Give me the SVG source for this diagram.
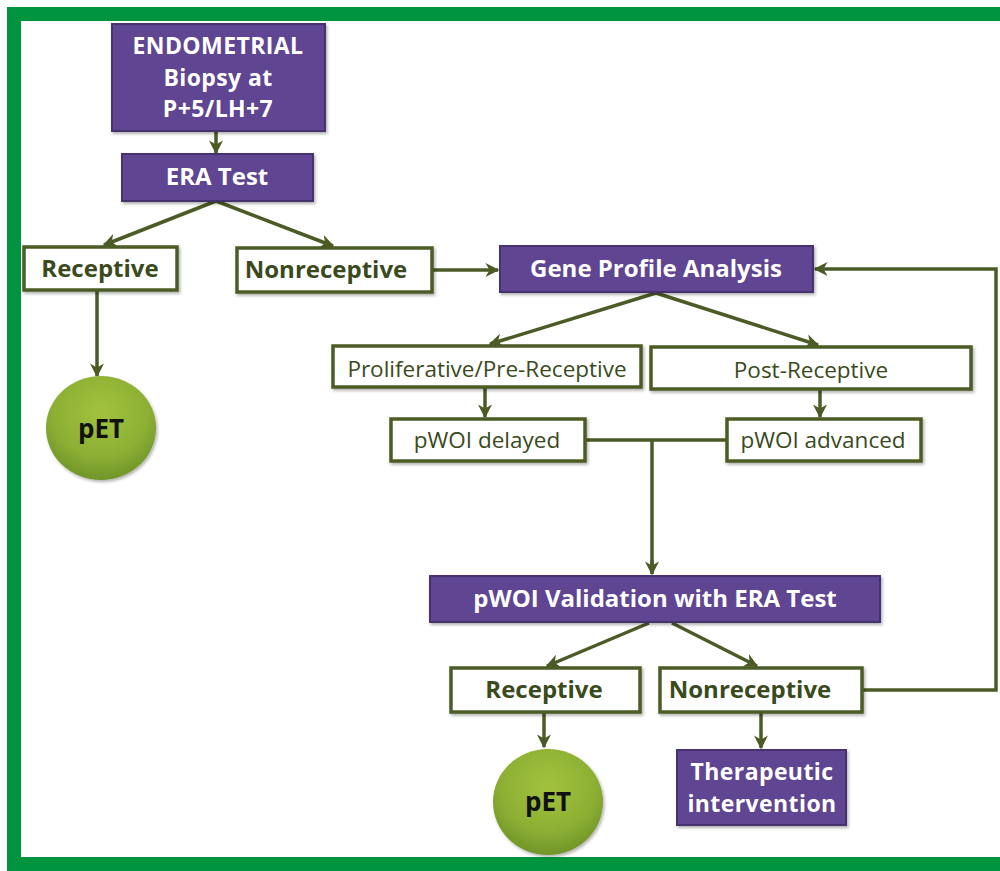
<svg xmlns="http://www.w3.org/2000/svg" width="1000" height="871" viewBox="0 0 1000 871">
<style>
.frame{fill:none;stroke:#00943F;stroke-width:14}
.pbox{fill:#5F4592;stroke:#45306E;stroke-width:2}
.wbox{fill:#FFFFFF;stroke:#4B5B25;stroke-width:3.5}
.wt{font-family:"Open Sans","DejaVu Sans",sans-serif;font-size:24px;font-weight:700;fill:#3A4A1C;text-anchor:middle}
.rt{font-family:"Open Sans","DejaVu Sans",sans-serif;font-size:22.5px;font-weight:400;fill:#3A4A1C;text-anchor:middle}
.pt{font-family:"Open Sans","DejaVu Sans",sans-serif;font-size:24px;font-weight:700;fill:#FFFFFF;text-anchor:middle}
.pm{font-family:"Open Sans","DejaVu Sans",sans-serif;font-size:23px;font-weight:700;fill:#FFFFFF;text-anchor:middle;letter-spacing:0.4px}
.ct{font-family:"Open Sans","DejaVu Sans",sans-serif;font-size:26px;font-weight:700;fill:#111111;text-anchor:middle}
.conn{fill:none;stroke:#4B5B25;stroke-width:3.5}
</style>
<defs>
<marker id="arr" viewBox="0 0 10 10" refX="9" refY="5" markerWidth="4" markerHeight="4" orient="auto" markerUnits="strokeWidth">
<path d="M0,0 L10,5 L0,10 L3,5 z" fill="#4B5B25"/>
</marker>
<radialGradient id="ball" cx="50%" cy="35%" r="70%">
<stop offset="0" stop-color="#A2C23E"/>
<stop offset="0.6" stop-color="#8DB034"/>
<stop offset="1" stop-color="#6A8F26"/>
</radialGradient>
<filter id="sh" x="-20%" y="-20%" width="150%" height="150%">
<feDropShadow dx="1.5" dy="2" stdDeviation="1.5" flood-color="#000" flood-opacity="0.3"/>
</filter>
</defs>
<rect x="0" y="0" width="1000" height="871" fill="#FFFFFF"/>
<path d="M1007,14 L14,14 L14,864 L1007,864" class="frame"/>

<g id="connectors">
<line x1="216" y1="131" x2="216" y2="153" class="conn" marker-end="url(#arr)"/>
<line x1="216" y1="201" x2="104" y2="245" class="conn" marker-end="url(#arr)"/>
<line x1="216" y1="201" x2="333" y2="246" class="conn" marker-end="url(#arr)"/>
<line x1="97" y1="291" x2="97" y2="376" class="conn" marker-end="url(#arr)"/>
<line x1="433" y1="270" x2="498" y2="270" class="conn" marker-end="url(#arr)"/>
<line x1="656" y1="293" x2="490" y2="344" class="conn" marker-end="url(#arr)"/>
<line x1="656" y1="293" x2="818" y2="345" class="conn" marker-end="url(#arr)"/>
<line x1="485" y1="387" x2="485" y2="417" class="conn" marker-end="url(#arr)"/>
<line x1="820" y1="389" x2="820" y2="417" class="conn" marker-end="url(#arr)"/>
<path d="M586,440 L726,440 M652,440 L652,574" class="conn"/>
<line x1="652" y1="560" x2="652" y2="574" class="conn" marker-end="url(#arr)"/>
<line x1="649" y1="623" x2="547" y2="666" class="conn" marker-end="url(#arr)"/>
<line x1="672" y1="623" x2="757" y2="666" class="conn" marker-end="url(#arr)"/>
<line x1="544" y1="713" x2="544" y2="747" class="conn" marker-end="url(#arr)"/>
<line x1="761" y1="713" x2="761" y2="748" class="conn" marker-end="url(#arr)"/>
<path d="M863,690 L996,690 L996,269 L815,269" class="conn" marker-end="url(#arr)"/>
</g>

<g id="endometrial">
<rect x="112" y="24" width="213" height="107" class="pbox" filter="url(#sh)"/>
<text x="218" y="54" class="pm">ENDOMETRIAL</text>
<text x="218" y="85.5" class="pm">Biopsy at</text>
<text x="218" y="117" class="pm">P+5/LH+7</text>
</g>
<g id="era">
<rect x="122" y="154" width="191" height="47" class="pbox" filter="url(#sh)"/>
<text x="217" y="185" class="pt">ERA Test</text>
</g>
<g id="receptive1">
<rect x="24" y="247" width="153" height="43" class="wbox" filter="url(#sh)"/>
<text x="100" y="277" class="wt">Receptive</text>
</g>
<g id="nonreceptive1">
<rect x="237" y="248" width="195" height="44" class="wbox" filter="url(#sh)"/>
<text x="326" y="278" class="wt">Nonreceptive</text>
</g>
<g id="pet1">
<ellipse cx="101" cy="428" rx="55" ry="52" fill="url(#ball)" filter="url(#sh)"/>
<text x="101" y="438" class="ct">pET</text>
</g>
<g id="geneprofile">
<rect x="500" y="246" width="313" height="46" class="pbox" filter="url(#sh)"/>
<text x="656" y="277" class="pt">Gene Profile Analysis</text>
</g>
<g id="proliferative">
<rect x="333" y="346" width="308" height="41" class="wbox" filter="url(#sh)"/>
<text x="487" y="377" class="rt">Proliferative/Pre-Receptive</text>
</g>
<g id="postreceptive">
<rect x="651" y="347" width="320" height="42" class="wbox" filter="url(#sh)"/>
<text x="811" y="378" class="rt">Post-Receptive</text>
</g>
<g id="delayed">
<rect x="391" y="419" width="194" height="42" class="wbox" filter="url(#sh)"/>
<text x="487" y="448" class="rt">pWOI delayed</text>
</g>
<g id="advanced">
<rect x="727" y="419" width="194" height="42" class="wbox" filter="url(#sh)"/>
<text x="823" y="448" class="rt">pWOI advanced</text>
</g>
<g id="validation">
<rect x="430" y="576" width="450" height="46" class="pbox" filter="url(#sh)"/>
<text x="655" y="607" class="pt">pWOI Validation with ERA Test</text>
</g>
<g id="receptive2">
<rect x="451" y="668" width="189" height="44" class="wbox" filter="url(#sh)"/>
<text x="544" y="698" class="wt">Receptive</text>
</g>
<g id="nonreceptive2">
<rect x="660" y="668" width="202" height="44" class="wbox" filter="url(#sh)"/>
<text x="750" y="698" class="wt">Nonreceptive</text>
</g>
<g id="pet2">
<ellipse cx="548" cy="802" rx="55" ry="53" fill="url(#ball)" filter="url(#sh)"/>
<text x="548" y="811" class="ct">pET</text>
</g>
<g id="therapeutic">
<rect x="677" y="750" width="169" height="75" class="pbox" filter="url(#sh)"/>
<text x="762" y="780" class="pm">Therapeutic</text>
<text x="762" y="811.5" class="pm">intervention</text>
</g>
</svg>
